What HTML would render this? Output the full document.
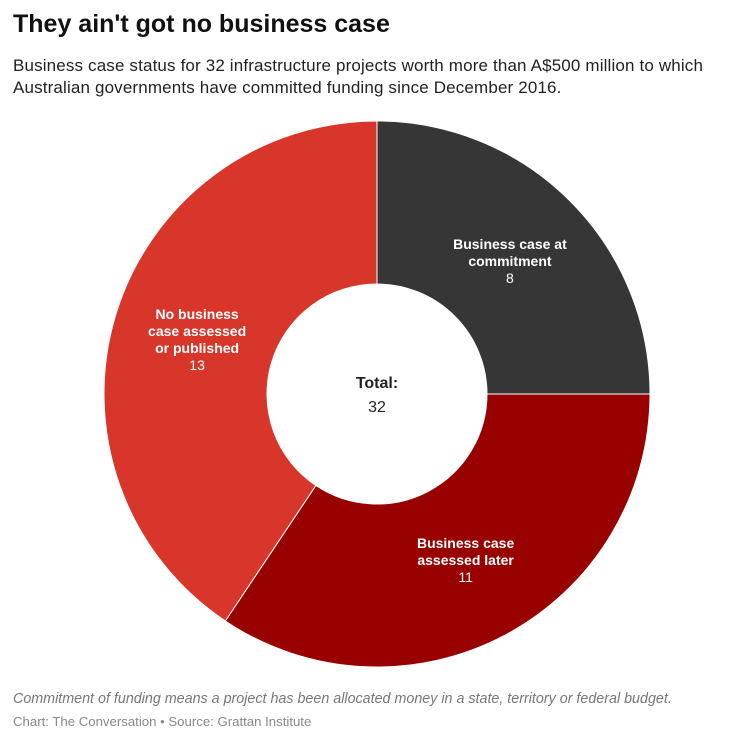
<!DOCTYPE html>
<html><head><meta charset="utf-8"><style>
body{margin:0;background:#fff;font-family:"Liberation Sans",sans-serif;}
#wrap{position:relative;width:754px;height:743px;overflow:hidden;}
.t{position:absolute;left:13px;margin:0;}
</style></head><body>
<div id="wrap">
<h1 class="t" style="top:10px;font-size:25px;font-weight:bold;color:#111;">They ain't got no business case</h1>
<div class="t" style="top:55px;font-size:17px;letter-spacing:0.15px;line-height:22px;color:#222;width:735px;">Business case status for 32 infrastructure projects worth more than A$500 million to which Australian governments have committed funding since December 2016.</div>
<svg id="svg" width="754" height="743" style="position:absolute;left:0;top:0"></svg>
<div class="t" style="top:691px;font-size:14.3px;font-style:italic;color:#777;">Commitment of funding means a project has been allocated money in a state, territory or federal budget.</div>
<div class="t" style="top:714px;font-size:13.2px;color:#888;">Chart: The Conversation • Source: Grattan Institute</div>
</div>
<script>
const categories=[["Business case at","commitment"],["Business case","assessed later"],["No business","case assessed","or published"]];
const values=[8,11,13];
const colors=["#363636","#990000","#d9362b"];
const NS="http://www.w3.org/2000/svg";
const svg=document.getElementById("svg");
const cx=377,cy=394,R=273,r=110;
const total=values.reduce((a,b)=>a+b,0);
function pt(a,rad){return [cx+rad*Math.sin(a),cy-rad*Math.cos(a)];}
let acc=0;
values.forEach((v,i)=>{
 const a0=acc/total*2*Math.PI;acc+=v;const a1=acc/total*2*Math.PI;
 const big=(a1-a0)>Math.PI?1:0;
 const [x0,y0]=pt(a0,R),[x1,y1]=pt(a1,R),[x2,y2]=pt(a1,r),[x3,y3]=pt(a0,r);
 const p=document.createElementNS(NS,"path");
 p.setAttribute("d",`M${x0},${y0}A${R},${R} 0 ${big} 1 ${x1},${y1}L${x2},${y2}A${r},${r} 0 ${big} 0 ${x3},${y3}Z`);
 p.setAttribute("fill",colors[i]);p.setAttribute("stroke","#fff");p.setAttribute("stroke-width","1");
 
 
 svg.appendChild(p);
 const am=(a0+a1)/2;const [lx,ly]=pt(am,188);
 const lines=categories[i].concat([String(v)]);
 const lh=17;const top=ly-(lines.length-1)*lh/2+5;
 const t=document.createElementNS(NS,"text");
 t.setAttribute("text-anchor","middle");t.setAttribute("fill","#fff");t.setAttribute("font-size","14");
 
 
 lines.forEach((s,j)=>{const ts=document.createElementNS(NS,"tspan");ts.setAttribute("x",lx);ts.setAttribute("y",top+j*lh);
  if(j<lines.length-1)ts.setAttribute("font-weight","bold");ts.textContent=s;t.appendChild(ts);});
 svg.appendChild(t);
});
const tt=document.createElementNS(NS,"text");
tt.setAttribute("text-anchor","middle");tt.setAttribute("font-size","16");tt.setAttribute("fill","#222");


tt.innerHTML=`<tspan x="${cx}" y="388" font-weight="bold">Total:</tspan><tspan x="${cx}" y="412">${total}</tspan>`;
svg.appendChild(tt);
</script>
</body></html>
